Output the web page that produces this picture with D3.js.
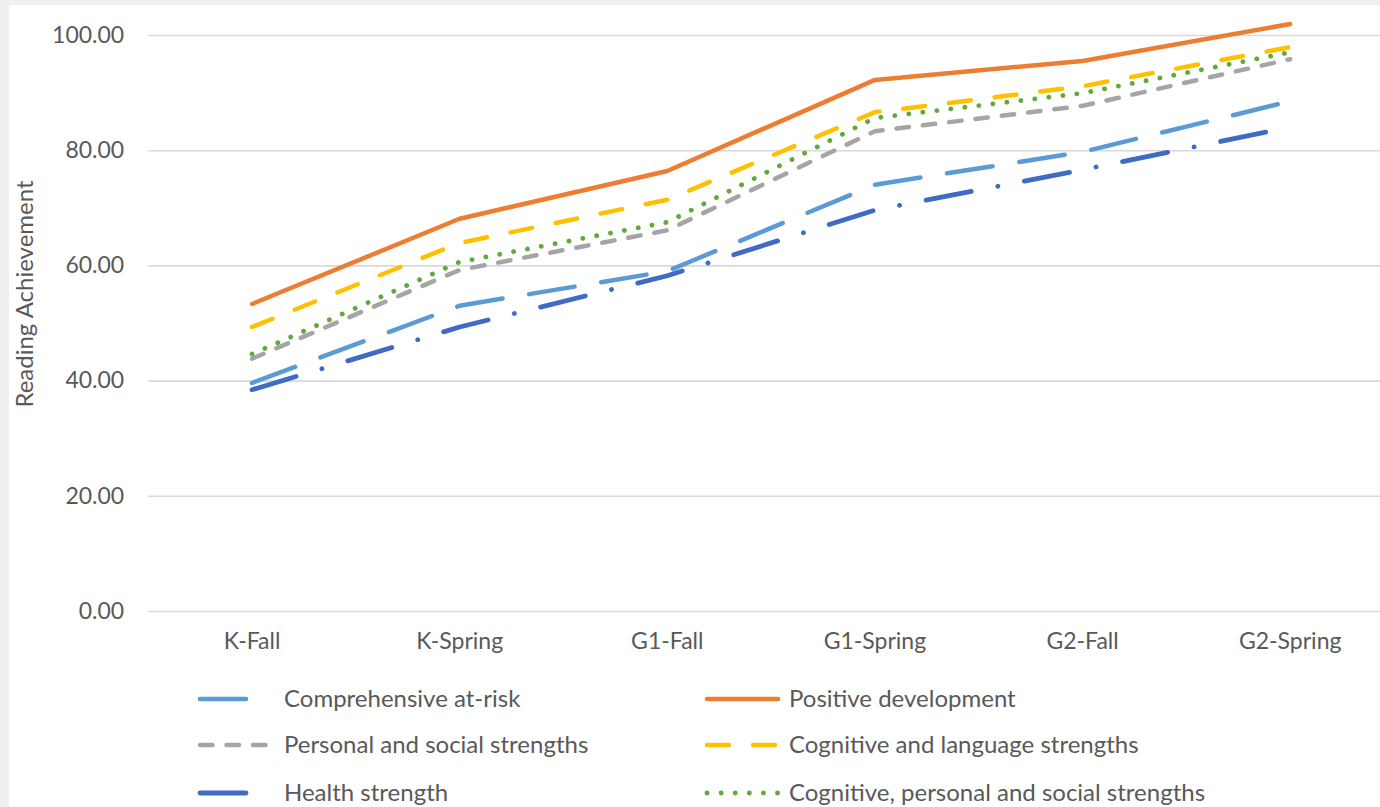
<!DOCTYPE html>
<html>
<head>
<meta charset="utf-8">
<script src="https://cdn.jsdelivr.net/npm/d3@7"></script>
<style>
  html, body { margin: 0; padding: 0; background: #efefef; overflow: hidden; }
  svg { display: block; }
  text { font-family: Lato, "Open Sans", sans-serif; fill: #595959; }
</style>
</head>
<body>
<svg id="chart" width="1380" height="807"></svg>
<script>
// Measurement occasions
const categories = ["K-Fall", "K-Spring", "G1-Fall", "G1-Spring", "G2-Fall", "G2-Spring"];

// Reading achievement by profile group
const comprehensiveAtRisk = [39.6, 53.0, 59.0, 74.0, 79.7, 88.5];
const positiveDevelopment = [53.3, 68.1, 76.4, 92.2, 95.5, 101.9];
const personalSocial      = [43.8, 59.2, 66.1, 83.3, 87.7, 95.8];
const cognitiveLanguage   = [49.3, 63.9, 71.4, 86.6, 91.1, 97.9];
const healthStrength      = [38.4, 49.3, 58.2, 69.6, 76.6, 84.0];
const cognitivePersonal   = [44.6, 60.6, 67.5, 85.6, 89.9, 97.0];

const yTicks = [0, 20, 40, 60, 80, 100];

const seriesNames = [
  "Comprehensive at-risk",
  "Positive development",
  "Personal and social strengths",
  "Cognitive and language strengths",
  "Health strength",
  "Cognitive, personal and social strengths"
];

const series = [
  { name: seriesNames[0], values: comprehensiveAtRisk, color: "#5B9BD5", dash: "46,27", width: 4.5 },
  { name: seriesNames[1], values: positiveDevelopment, color: "#ED7D31", dash: null, width: 4.5 },
  { name: seriesNames[2], values: personalSocial, color: "#A5A5A5", dash: "12.5,14", width: 4.5 },
  { name: seriesNames[3], values: cognitiveLanguage, color: "#FFC000", dash: "22,24", width: 4.5 },
  { name: seriesNames[4], values: healthStrength, color: "#3F6BC4", dash: "46,27,0.1,27", width: 4.8 },
  { name: seriesNames[5], values: cognitivePersonal, color: "#62A83A", dash: "0.1,14", width: 4.8 }
];

const AXIS_FONT = 23;
const LEGEND_FONT = 24;

const svg = d3.select("#chart");

// white chart card
svg.append("rect")
  .attr("x", 9).attr("y", 5)
  .attr("width", 1400).attr("height", 820)
  .attr("fill", "#ffffff");

const plot = { left: 148.2, right: 1394, top: 35, bottom: 611 };

const x = d3.scaleBand().domain(categories).range([plot.left, plot.right]);
const cx = c => x(c) + x.bandwidth() / 2;
const y = d3.scaleLinear().domain([0, 100]).range([plot.bottom, plot.top]);

// horizontal gridlines with value labels
const yAxis = d3.axisLeft(y)
  .tickValues(yTicks)
  .tickFormat(d3.format(".2f"))
  .tickSize(-(plot.right - plot.left))
  .tickPadding(24);

const gy = svg.append("g")
  .attr("transform", `translate(${plot.left},0)`)
  .call(yAxis);
gy.select(".domain").remove();
gy.selectAll(".tick line").attr("stroke", "#d9d9d9").attr("stroke-width", 1.6);
gy.selectAll(".tick text")
  .attr("font-size", AXIS_FONT)
  .attr("fill", "#595959")
  .style("font-family", "Lato, 'Open Sans', sans-serif");

// category labels
const xAxis = d3.axisBottom(x).tickSize(0).tickPadding(22);
const gx = svg.append("g")
  .attr("transform", `translate(0,${plot.bottom})`)
  .call(xAxis);
gx.select(".domain").remove();
gx.selectAll(".tick text")
  .attr("font-size", AXIS_FONT)
  .attr("fill", "#595959")
  .style("font-family", "Lato, 'Open Sans', sans-serif");

// y axis title
svg.append("text")
  .attr("transform", "translate(33,294) rotate(-90)")
  .attr("text-anchor", "middle")
  .attr("font-size", 24)
  .text("Reading Achievement");

// series lines
const line = d3.line()
  .x((d, i) => cx(categories[i]))
  .y(d => y(d));

svg.append("g")
  .selectAll("path")
  .data(series)
  .join("path")
  .attr("d", d => line(d.values))
  .attr("fill", "none")
  .attr("stroke", d => d.color)
  .attr("stroke-width", d => d.width)
  .attr("stroke-linecap", "round")
  .attr("stroke-linejoin", "round")
  .attr("stroke-dasharray", d => d.dash);

// legend: two columns, three rows
const legendCols = [{ x0: 200, x1: 272, tx: 284 }, { x0: 707, x1: 778, tx: 789 }];
const legendRows = [699, 745, 793];

const legend = svg.append("g")
  .selectAll("g")
  .data(series)
  .join("g")
  .attr("transform", (d, i) => `translate(0,${legendRows[Math.floor(i / 2)]})`);

legend.append("line")
  .attr("x1", (d, i) => legendCols[i % 2].x0)
  .attr("x2", (d, i) => legendCols[i % 2].x1)
  .attr("y1", 0).attr("y2", 0)
  .attr("stroke", d => d.color)
  .attr("stroke-width", d => d.width)
  .attr("stroke-linecap", "round")
  .attr("stroke-dasharray", d => d.dash);

legend.append("text")
  .attr("x", (d, i) => legendCols[i % 2].tx)
  .attr("y", 0)
  .attr("dy", "0.35em")
  .attr("font-size", LEGEND_FONT)
  .text(d => d.name);
</script>
</body>
</html>
